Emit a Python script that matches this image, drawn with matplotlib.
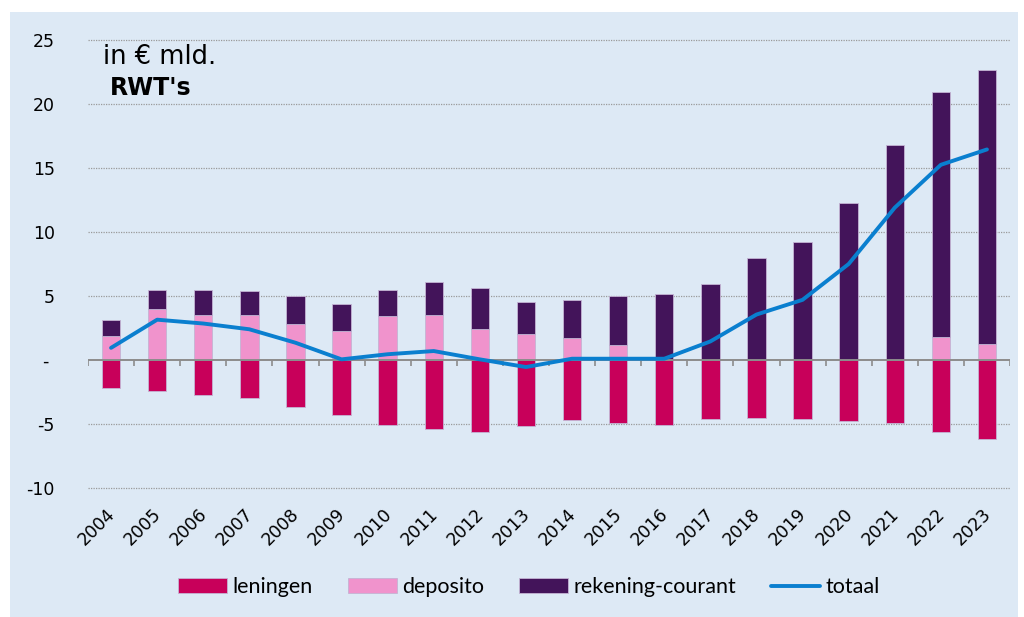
import numpy as np
import matplotlib
matplotlib.use("Agg")
import matplotlib.pyplot as plt
from matplotlib.patches import Rectangle
from matplotlib.transforms import ScaledTranslation

# data (in € mld.)
years = ["2004", "2005", "2006", "2007", "2008", "2009", "2010", "2011", "2012", "2013",
         "2014", "2015", "2016", "2017", "2018", "2019", "2020", "2021", "2022", "2023"]
leningen = [-2.15, -2.4, -2.7, -3.0, -3.65, -4.3, -5.1, -5.4, -5.65, -5.15,
            -4.65, -4.95, -5.1, -4.6, -4.5, -4.6, -4.75, -4.9, -5.65, -6.2]
deposito = [1.85, 4.0, 3.55, 3.55, 2.8, 2.3, 3.45, 3.5, 2.4, 2.05,
            1.7, 1.2, 0.0, 0.0, 0.0, 0.0, 0.0, 0.0, 1.8, 1.25]
rekening_courant = [1.25, 1.5, 1.95, 1.85, 2.2, 2.05, 2.05, 2.6, 3.25, 2.5,
                    3.0, 3.8, 5.15, 5.95, 8.0, 9.25, 12.25, 16.8, 19.1, 21.4]
totaal = [0.95, 3.15, 2.85, 2.4, 1.35, 0.05, 0.45, 0.7, 0.05, -0.55,
          0.1, 0.1, 0.1, 1.45, 3.55, 4.7, 7.5, 11.9, 15.25, 16.45]
yticks = [-10, -5, 0, 5, 10, 15, 20, 25]
ytick_labels = ["-10", "-5", "- ", "5", "10", "15", "20", "25"]

W, H = 1024, 617
bg = "#dde9f5"
c_len = "#c8005a"
c_dep = "#f093cc"
c_rc = "#43145a"
c_tot = "#0a7fcf"
edge = "#c4b4d4"

fig = plt.figure(figsize=(W / 100, H / 100), dpi=100, facecolor="white")
# light blue panel behind the chart
fig.patches.append(Rectangle((10 / W, 0), 1008 / W, 605 / H, transform=fig.transFigure,
                             facecolor=bg, edgecolor="none", zorder=-10))

ax = fig.add_axes([88 / W, 1 - 488 / H, 922 / W, 448 / H])
ax.set_facecolor("none")
ax.set_zorder(1)

x = np.arange(len(years))
dep = np.array(deposito)
bw = 0.4
b1 = ax.bar(x, leningen, bw, color=c_len, edgecolor=edge, linewidth=0.6, zorder=3)
b2 = ax.bar(x, deposito, bw, color=c_dep, edgecolor=edge, linewidth=0.6, zorder=3)
b3 = ax.bar(x, rekening_courant, bw, bottom=dep, color=c_rc, edgecolor=edge, linewidth=0.6,
            zorder=3)
l1, = ax.plot(x, totaal, color=c_tot, lw=2.8, zorder=5, solid_capstyle="round")

ax.set_xlim(-0.5, len(years) - 0.5)
ax.set_ylim(-10, 25)

# gridlines (dotted), zero line solid with category tick marks
for v in yticks:
    if v != 0:
        ax.axhline(v, color="#9a9a9a", lw=0.9, ls=(0, (1, 1)), zorder=1, clip_on=False)
ax.axhline(0, color="#8c8c8c", lw=1.4, zorder=4)
bounds = np.arange(len(years) + 1) - 0.5
ax.vlines(bounds, -0.45, 0, color="#8c8c8c", lw=1.2, zorder=4)

for s in ax.spines.values():
    s.set_visible(False)

ax.set_yticks(yticks)
ax.set_yticklabels(ytick_labels, fontsize=12.5, color="black")
ax.tick_params(axis="y", length=0, pad=24)
ax.set_xticks(x)
ax.set_xticklabels(years, fontsize=12.5, rotation=45, ha="right", va="top",
                   rotation_mode="anchor")
ax.tick_params(axis="x", length=0, pad=12)
shift = ScaledTranslation(-0.05, 0, fig.dpi_scale_trans)
for lbl in ax.get_xticklabels():
    lbl.set_transform(lbl.get_transform() + shift)

fig.text(103 / W, 1 - 64 / H, "in € mld.", fontsize=18.5, ha="left", va="baseline")
fig.text(110 / W, 1 - 95 / H, "RWT's", fontsize=17, fontweight="bold", ha="left",
         va="baseline")

fig.legend([b1, b2, b3, l1], ["leningen", "deposito", "rekening-courant", "totaal"],
           loc="center", bbox_to_anchor=(529 / W, 1 - 587 / H), ncol=4, frameon=False,
           prop={"family": ["Lato", "DejaVu Sans"], "size": 15.5},
           handlelength=2.3, handleheight=0.65, handletextpad=0.25, columnspacing=1.6)

fig.savefig("out.png", dpi=100, facecolor="white")
